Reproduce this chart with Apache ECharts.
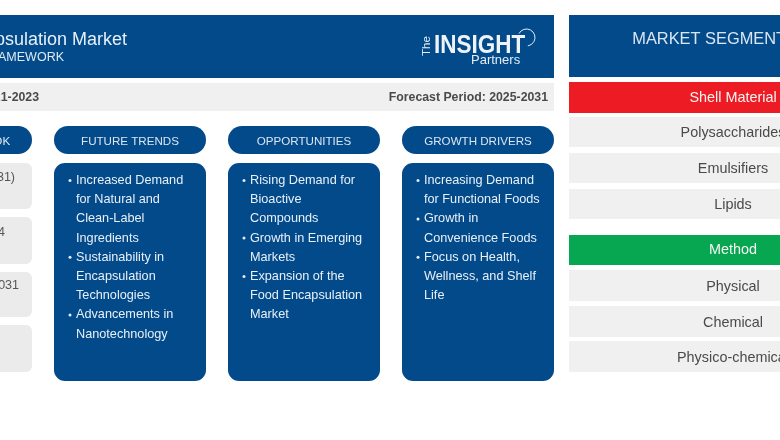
<!DOCTYPE html>
<html>
<head>
<meta charset="utf-8">
<style>
html, body { margin: 0; padding: 0; background: #fff; }
#main { width: 780px; height: 440px; filter: blur(0.45px); }
</style>
<script src="https://cdn.jsdelivr.net/npm/echarts@6/dist/echarts.min.js"></script>
</head>
<body>
<div id="main"></div>
<script>
var titleText = 'Food Encapsulation Market';
var subtitleText = 'STRATEGIC FRAMEWORK';
var historicalText = 'Historical Period: 2021-2023';
var forecastText = 'Forecast Period: 2025-2031';

var outlookHead = 'MARKET OUTLOOK';
var outlookLines = ['CAGR (2025-2031)', 'Market Size 2024', 'Market Size by 2031'];

var columnHeads = ['FUTURE TRENDS', 'OPPORTUNITIES', 'GROWTH DRIVERS'];
var futureTrends = [
    ['Increased Demand', 'for Natural and', 'Clean-Label', 'Ingredients'],
    ['Sustainability in', 'Encapsulation', 'Technologies'],
    ['Advancements in', 'Nanotechnology']
];
var opportunities = [
    ['Rising Demand for', 'Bioactive', 'Compounds'],
    ['Growth in Emerging', 'Markets'],
    ['Expansion of the', 'Food Encapsulation', 'Market']
];
var growthDrivers = [
    ['Increasing Demand', 'for Functional Foods'],
    ['Growth in', 'Convenience Foods'],
    ['Focus on Health,', 'Wellness, and Shelf', 'Life']
];

var segmentHead = 'MARKET SEGMENTATION';
var shellHead = 'Shell Material';
var shellItems = ['Polysaccharides', 'Emulsifiers', 'Lipids'];
var methodHead = 'Method';
var methodItems = ['Physical', 'Chemical', 'Physico-chemical'];

var BLUE = '#034a8b';
var FONT = '"Liberation Sans", Arial, sans-serif';

var myChart = echarts.init(document.getElementById('main'));
var els = [];

function box(x, y, w, h, fill, r) {
    els.push({ type: 'rect', shape: { x: x, y: y, width: w, height: h, r: r || 0 }, style: { fill: fill } });
}
function label(x, y, str, size, color, align, weight) {
    els.push({
        type: 'text', x: x, y: y,
        style: { text: str, font: (weight || 'normal') + ' ' + size + 'px ' + FONT, fill: color, textAlign: align || 'left', textVerticalAlign: 'middle' }
    });
}

// top banner
box(-20, 15, 574, 63, BLUE);
label(127, 40.5, titleText, 18, '#e8f0f7', 'right');
label(64, 58, subtitleText, 12.5, '#dfe9f3', 'right');
box(-20, 83, 574, 28, '#f0f0f0');
label(39, 98, historicalText, 12.3, '#4a4a4a', 'right', 'bold');
label(548, 98, forecastText, 12.3, '#4a4a4a', 'right', 'bold');

// logo
els.push({ type: 'text', x: 434, y: 46, scaleX: 0.9, style: { text: 'INSIGHT', font: 'bold 25px ' + FONT, fill: '#eef3f8', textVerticalAlign: 'middle' } });
label(471, 60.5, 'Partners', 13, '#e4ecf4');
els.push({ type: 'text', x: 427, y: 46, rotation: Math.PI / 2, style: { text: 'The', font: 'normal 11.5px ' + FONT, fill: '#e4ecf4', textAlign: 'center', textVerticalAlign: 'middle' } });
els.push({
    type: 'arc',
    shape: { cx: 526.5, cy: 37.5, r: 8.5, startAngle: -Math.PI * 0.85, endAngle: Math.PI * 0.45 },
    style: { fill: 'none', stroke: '#e4ecf4', lineWidth: 1 }
});

// outlook column, runs off the left edge
box(-120, 126, 152, 28, BLUE, 14);
label(-44, 141.5, outlookHead, 11.6, '#dfe9f3', 'center');
box(-120, 163, 152, 46, '#ebebeb', 6);
box(-120, 217, 152, 47, '#ebebeb', 6);
box(-120, 272, 152, 45, '#ebebeb', 6);
box(-120, 325, 152, 47, '#ebebeb', 6);
label(15, 178, outlookLines[0], 12.5, '#555', 'right');
label(5, 233, outlookLines[1], 12.5, '#555', 'right');
label(19, 286, outlookLines[2], 12.5, '#555', 'right');

// three blue columns
var columns = [futureTrends, opportunities, growthDrivers];
var columnX = [54, 228, 402];
columns.forEach(function (items, c) {
    var x = columnX[c];
    box(x, 126, 152, 28, BLUE, 14);
    label(x + 76, 141.5, columnHeads[c], 11.6, '#dbe6f1', 'center');
    box(x, 163, 152, 218, BLUE, 11);
    var row = 0;
    items.forEach(function (lines) {
        lines.forEach(function (line, i) {
            var y = 180.5 + row * 19.2;
            if (i === 0) {
                els.push({ type: 'circle', shape: { cx: x + 16, cy: y, r: 1.5 }, style: { fill: '#e4ecf4' } });
            }
            label(x + 22, y, line, 12.7, '#e8f0f7');
            row++;
        });
    });
});

// segment panel on the right
box(569, 15, 328, 62, BLUE);
label(733, 39, segmentHead, 16.4, '#dbe6f1', 'center');

function segment(head, items, headColor, headY, headH, rowY, rowH) {
    box(569, headY, 328, headH, headColor);
    label(733, headY + headH / 2 + 0.5, head, 14.4, '#f5f5f5', 'center');
    items.forEach(function (item, i) {
        box(569, rowY[i], 328, rowH, '#f0f0f0');
        label(733, rowY[i] + rowH / 2 + 1.5, item, 14.4, '#4a4a4a', 'center');
    });
}
segment(shellHead, shellItems, '#ed1c24', 82, 31, [117, 153, 189], 30);
segment(methodHead, methodItems, '#07a650', 235, 30, [270, 306, 341], 31);

myChart.setOption({
    backgroundColor: '#ffffff',
    animation: false,
    graphic: { elements: els }
});
</script>
</body>
</html>
